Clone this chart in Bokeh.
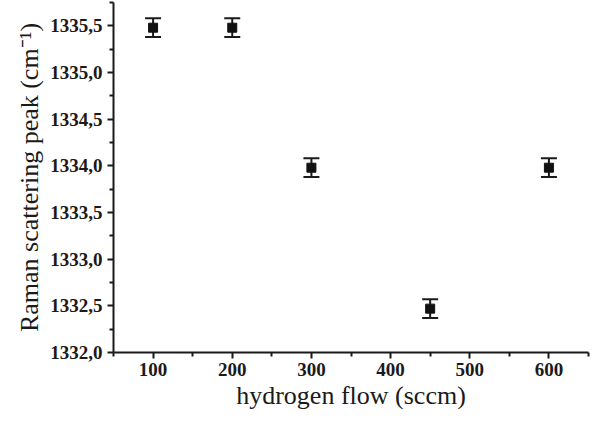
from bokeh.plotting import figure
from bokeh.models import FixedTicker, Whisker, ColumnDataSource, Range1d, TeeHead, Title
from bokeh.embed import file_html
from bokeh.resources import INLINE

flow = [100, 200, 300, 450, 600]
peak = [1335.48, 1335.48, 1333.98, 1332.47, 1333.98]
err = [0.1, 0.1, 0.1, 0.1, 0.1]

x_ticks = [100, 200, 300, 400, 500, 600]
x_minor = [50, 150, 250, 350, 450, 550, 650]
y_ticks = [1332.0, 1332.5, 1333.0, 1333.5, 1334.0, 1334.5, 1335.0, 1335.5]
y_labels = ["1332,0", "1332,5", "1333,0", "1333,5", "1334,0", "1334,5", "1335,0", "1335,5"]
y_minor = [1332.25, 1332.75, 1333.25, 1333.75, 1334.25, 1334.75, 1335.25, 1335.75]

x_title = "hydrogen flow (sccm)"
y_title = "Raman scattering peak (cm\u207b\u00b9)"

src = ColumnDataSource(dict(
    x=flow, y=peak,
    lo=[v - e for v, e in zip(peak, err)],
    hi=[v + e for v, e in zip(peak, err)],
))

p = figure(width=590, height=409, output_backend="svg", toolbar_location=None,
           x_range=Range1d(50, 650), y_range=Range1d(1332.0, 1335.75))
p.min_border_left = 113
p.min_border_top = 2
p.min_border_right = 2
p.min_border_bottom = 0
p.outline_line_color = None
p.grid.visible = False
p.background_fill_color = "white"

ink = "#1a1a1a"
font = "Liberation Serif"
for ax in (p.xaxis[0], p.yaxis[0]):
    ax.axis_line_width = 2
    ax.axis_line_color = ink
    ax.major_tick_line_width = 2
    ax.minor_tick_line_width = 2
    ax.major_tick_line_color = ink
    ax.minor_tick_line_color = ink
    ax.major_tick_out = 6
    ax.major_tick_in = 0
    ax.minor_tick_out = 4
    ax.minor_tick_in = 0
    ax.major_label_text_font = font
    ax.major_label_text_font_style = "bold"
    ax.major_label_text_font_size = "19px"
    ax.major_label_text_color = ink

p.xaxis[0].ticker = FixedTicker(ticks=x_ticks, minor_ticks=x_minor)
p.yaxis[0].ticker = FixedTicker(ticks=y_ticks, minor_ticks=y_minor)
p.yaxis[0].major_label_overrides = {t: l for t, l in zip(y_ticks, y_labels)}
p.xaxis[0].major_label_standoff = 4
p.yaxis[0].major_label_standoff = 5

p.add_layout(Title(text=x_title, align="center", text_font=font,
                   text_font_size="26px", text_font_style="normal",
                   text_color=ink, standoff=0), "below")
p.add_layout(Title(text=y_title, align="center", text_font=font,
                   text_font_size="26px", text_font_style="normal",
                   text_color=ink, standoff=8, offset=-18), "left")

w = Whisker(source=src, base="x", lower="lo", upper="hi", dimension="height",
            line_color=ink, line_width=2,
            upper_head=TeeHead(size=16, line_width=2, line_color=ink),
            lower_head=TeeHead(size=16, line_width=2, line_color=ink))
p.add_layout(w)
p.scatter("x", "y", source=src, marker="square", size=9,
          fill_color="#111111", line_color="#111111")

open("out.html", "w").write(file_html(p, INLINE))
